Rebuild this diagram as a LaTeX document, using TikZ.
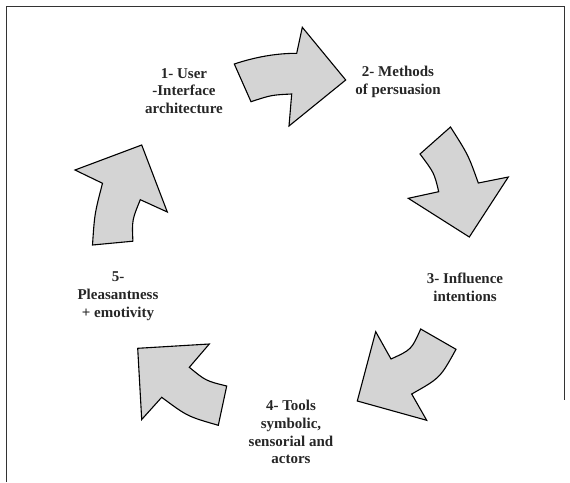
\documentclass[tikz,border=0pt]{standalone}
\usepackage{fontspec}
\setmainfont{Liberation Serif}
\begin{document}
\begin{tikzpicture}[x=1pt,y=-1pt,
  cyclearrow/.style={draw=black, fill=black!17, line width=1.1pt, line join=miter},
  steplabel/.style={align=center, font=\fontsize{15}{17.8}\selectfont\bfseries, text=black!85, inner sep=0pt},
  frameline/.style={draw=black!80, line width=0.9pt}]
\useasboundingbox (0,0) rectangle (570,482);

% open frame around the cycle
\coordinate (fbl) at (6.5,482);
\coordinate (ftl) at (6.5,6);
\coordinate (ftr) at (564,6);
\coordinate (fbr) at (564,400);
\draw[frameline] (fbl) -- (ftl) -- (ftr) -- (fbr);

% stage labels
\node[steplabel] (s1) at (184,91)  {1- User\\-Interface\\architecture};
\node[steplabel] (s2) at (398,82)  {2- Methods\\of persuasion};
\node[steplabel] (s3) at (465,287) {3- Influence\\intentions};
\node[steplabel] (s4) at (291,432) {4- Tools\\symbolic,\\sensorial and\\actors};
\node[steplabel] (s5) at (118,296) {5-\\Pleasantness\\+ emotivity};

% curved block arrows of the cycle
\draw[cyclearrow] (234.3,64) .. controls (255.6,56.9) and (276.4,53.3) .. (296.7,53.3)
  -- (302.3,27.3) -- (345.7,80) -- (289,126) -- (291.7,94)
  .. controls (271.4,95) .. (251,101.7) -- cycle;

\draw[cyclearrow] (450.5,127) .. controls (468.3,155) .. (478.3,183)
  -- (508.3,177) -- (469.3,237) -- (408.3,198.3) -- (438.7,191.7)
  .. controls (434.2,172.85) .. (420,154) -- cycle;

\draw[cyclearrow] (375.7,331.7) -- (391,359)
  .. controls (411.5,349.6) .. (420.7,329) -- (456,349.3)
  .. controls (440.2,377.9) .. (411.7,394) -- (426.7,420.3) -- (357.3,401) -- cycle;

\draw[cyclearrow] (137.7,348.3) -- (209.3,344) -- (189.3,367.3)
  .. controls (205.9,380.9) .. (226.7,386) -- (218.3,425.3)
  .. controls (187.4,416.4) .. (161.7,397.3) -- (141.7,419.5) -- cycle;

\draw[cyclearrow] (75,170) -- (141.7,145) -- (167.3,212) -- (140.3,199.7)
  .. controls (132,220.1) .. (132.9,241.2) -- (92.5,245)
  .. controls (94.6,213.7) .. (102.5,183.3) -- cycle;
\end{tikzpicture}
\end{document}
